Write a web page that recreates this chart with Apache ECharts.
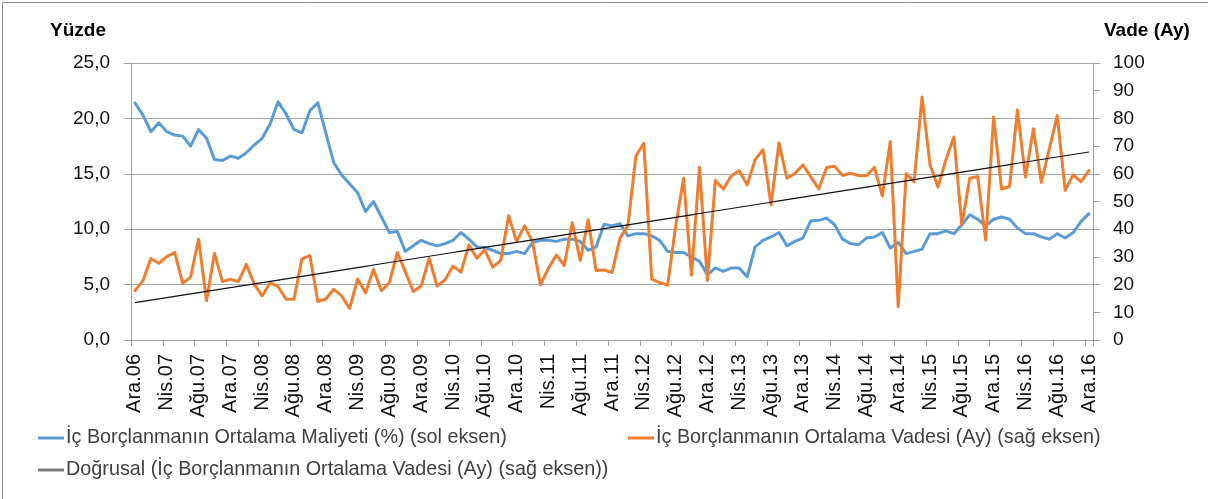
<!DOCTYPE html>
<html>
<head>
<meta charset="utf-8">
<script src="https://cdn.jsdelivr.net/npm/echarts@6/dist/echarts.min.js"></script>
<style>
  html, body { margin: 0; padding: 0; background: #fff; }
  #chart { width: 1208px; height: 499px; }
</style>
</head>
<body>
<div id="chart"></div>
<script>
// Month abbreviations (Turkish) and the span of the monthly series: Ara.06 … Ara.16
const monthNames = ['Oca', 'Şub', 'Mar', 'Nis', 'May', 'Haz', 'Tem', 'Ağu', 'Eyl', 'Eki', 'Kas', 'Ara'];
const startYear = 2006, startMonth = 11, monthCount = 121;

// İç borçlanmanın ortalama maliyeti (%), sol eksen
const maliyet = [
  21.4, 20.3, 18.8, 19.6, 18.8, 18.5, 18.4, 17.5, 19.0, 18.2,
  16.3, 16.2, 16.6, 16.4, 16.9, 17.6, 18.2, 19.5, 21.5, 20.4,
  19.0, 18.7, 20.7, 21.4, 18.7, 16.0, 14.9, 14.1, 13.3, 11.6,
  12.5, 11.1, 9.7, 9.8, 8.0, 8.5, 9.0, 8.7, 8.5, 8.7,
  9.0, 9.7, 9.1, 8.4, 8.35, 8.1, 7.8, 7.8, 8.0, 7.8,
  8.8, 9.0, 9.0, 8.9, 9.1, 9.1, 8.9, 8.1, 8.4, 10.45,
  10.3, 10.5, 9.4, 9.6, 9.6, 9.4, 9.0, 8.0, 7.9, 7.9,
  7.5, 7.1, 5.9, 6.5, 6.2, 6.5, 6.5, 5.7, 8.4, 9.0,
  9.3, 9.7, 8.5, 8.9, 9.2, 10.75, 10.8, 11.0, 10.4, 9.1,
  8.7, 8.6, 9.2, 9.3, 9.7, 8.3, 8.8, 7.8, 8.0, 8.2,
  9.6, 9.6, 9.85, 9.6, 10.4, 11.3, 10.9, 10.3, 10.9, 11.1,
  10.9, 10.1, 9.6, 9.6, 9.3, 9.1, 9.6, 9.2, 9.7, 10.7,
  11.4
];

// İç borçlanmanın ortalama vadesi (ay), sağ eksen
const vade = [
  17.8, 21.4, 29.4, 27.7, 30.1, 31.6, 20.5, 22.7, 36.4, 14.2,
  31.3, 21.1, 21.9, 21.1, 27.3, 20.2, 15.9, 20.7, 19.3, 14.7,
  14.7, 29.3, 30.5, 13.9, 14.8, 18.3, 15.9, 11.4, 22.0, 17.1,
  25.5, 17.8, 20.7, 31.6, 24.7, 17.5, 19.5, 29.5, 19.5, 21.7,
  26.7, 24.5, 34.3, 29.5, 32.5, 26.3, 28.7, 44.9, 35.5, 41.2,
  35.5, 19.9, 25.9, 30.7, 26.9, 42.4, 28.7, 43.4, 25.1, 25.3,
  24.3, 36.8, 41.2, 66.4, 71.0, 22.0, 20.7, 19.8, 41.0, 58.4,
  23.4, 62.4, 21.5, 57.6, 54.5, 59.3, 61.1, 56.0, 65.1, 68.7,
  48.8, 71.1, 58.4, 60.1, 63.2, 59.0, 54.5, 62.3, 62.7, 59.4,
  60.2, 59.4, 59.3, 62.3, 52.0, 71.7, 12.0, 60.0, 57.2, 87.7,
  63.3, 55.2, 65.1, 73.3, 41.6, 58.4, 59.0, 36.1, 80.5, 54.5,
  55.4, 83.1, 58.8, 76.3, 56.9, 68.9, 81.0, 54.0, 59.6, 57.2,
  61.2
];

const seriesNames = [
  'İç Borçlanmanın Ortalama Maliyeti (%) (sol eksen)',
  'İç Borçlanmanın Ortalama Vadesi (Ay) (sağ eksen)',
  'Doğrusal (İç Borçlanmanın Ortalama Vadesi (Ay) (sağ eksen))'
];
const leftAxisName = 'Yüzde';
const rightAxisName = 'Vade (Ay)';

// Category labels such as "Ara.06", "Nis.07"
const categories = [];
for (let k = 0; k < monthCount; k++) {
  const m = (startMonth + k) % 12;
  const y = startYear + Math.floor((startMonth + k) / 12);
  categories.push(monthNames[m] + '.' + String(y % 100).padStart(2, '0'));
}

// Linear (least-squares) trend of the maturity series
function linearTrend(values) {
  const n = values.length;
  let sx = 0, sy = 0, sxx = 0, sxy = 0;
  values.forEach((v, i) => { const x = i + 1; sx += x; sy += v; sxx += x * x; sxy += x * v; });
  const b = (n * sxy - sx * sy) / (n * sxx - sx * sx);
  const a = (sy - b * sx) / n;
  return values.map((_, i) => +(a + b * (i + 1)).toFixed(3));
}
const vadeTrend = linearTrend(vade);

const FONT = 'Liberation Sans';
const chart = echarts.init(document.getElementById('chart'), null, { renderer: 'canvas' });

const legendBase = {
  icon: 'rect',
  itemWidth: 26,
  itemHeight: 3,
  itemGap: 0,
  padding: 0,
  textStyle: { fontFamily: FONT, fontSize: 19.8, color: '#404040', padding: [0, 0, 0, -3] }
};

chart.setOption({
  animation: false,
  backgroundColor: '#ffffff',
  textStyle: { fontFamily: FONT },
  grid: { left: 131, right: 115, top: 63, height: 277, containLabel: false },
  legend: [
    Object.assign({}, legendBase, { data: [seriesNames[0]], left: 38, top: 428 }),
    Object.assign({}, legendBase, { data: [seriesNames[1]], left: 628, top: 428 }),
    Object.assign({}, legendBase, { data: [seriesNames[2]], left: 38, top: 460 })
  ],
  xAxis: {
    type: 'category',
    data: categories,
    boundaryGap: true,
    axisLine: { lineStyle: { color: '#a0a0a0', width: 1 } },
    axisTick: { show: true, interval: 3, length: 6, lineStyle: { color: '#a0a0a0' } },
    axisLabel: {
      interval: 3, rotate: 90, margin: 14,
      fontFamily: FONT, fontSize: 20, color: '#111111'
    },
    splitLine: { show: false }
  },
  yAxis: [
    {
      type: 'value', min: 0, max: 25, interval: 5, position: 'left',
      axisLine: { show: true, lineStyle: { color: '#a0a0a0' } },
      axisTick: { show: true, length: 7, lineStyle: { color: '#a0a0a0' } },
      axisLabel: {
        margin: 21, fontFamily: FONT, fontSize: 19, color: '#111111',
        formatter: v => v.toFixed(1).replace('.', ',')
      },
      splitLine: { show: true, lineStyle: { color: '#a6a6a6', width: 1 } }
    },
    {
      type: 'value', min: 0, max: 100, interval: 10, position: 'right',
      axisLine: { show: true, lineStyle: { color: '#a0a0a0' } },
      axisTick: { show: true, length: 7, lineStyle: { color: '#a0a0a0' } },
      axisLabel: { margin: 20, fontFamily: FONT, fontSize: 19, color: '#111111' },
      splitLine: { show: false }
    }
  ],
  series: [
    {
      name: seriesNames[0], type: 'line', yAxisIndex: 0, data: maliyet,
      showSymbol: false, symbol: 'none', color: '#5b9bd5',
      lineStyle: { color: '#5b9bd5', width: 3, join: 'round', cap: 'round' }
    },
    {
      name: seriesNames[1], type: 'line', yAxisIndex: 1, data: vade,
      showSymbol: false, symbol: 'none', color: '#ed7d31',
      lineStyle: { color: '#ed7d31', width: 3, join: 'round', cap: 'round' }
    },
    {
      name: seriesNames[2], type: 'line', yAxisIndex: 1, data: vadeTrend,
      showSymbol: false, symbol: 'none', color: '#7f7f7f',
      lineStyle: { color: '#111111', width: 1.2 }
    }
  ],
  graphic: [
    {
      type: 'rect', silent: true, z: -1,
      shape: { x: 2.5, y: 2.5, width: 1212, height: 505 },
      style: { fill: null, stroke: '#8c8c8c', lineWidth: 1 }
    },
    {
      type: 'text', left: 50, top: 21,
      style: { text: leftAxisName, fontFamily: FONT, fontSize: 19, fontWeight: 'bold', fill: '#000' }
    },
    {
      type: 'text', left: 1104, top: 21,
      style: { text: rightAxisName, fontFamily: FONT, fontSize: 19, fontWeight: 'bold', fill: '#000' }
    }
  ]
});
</script>
</body>
</html>
